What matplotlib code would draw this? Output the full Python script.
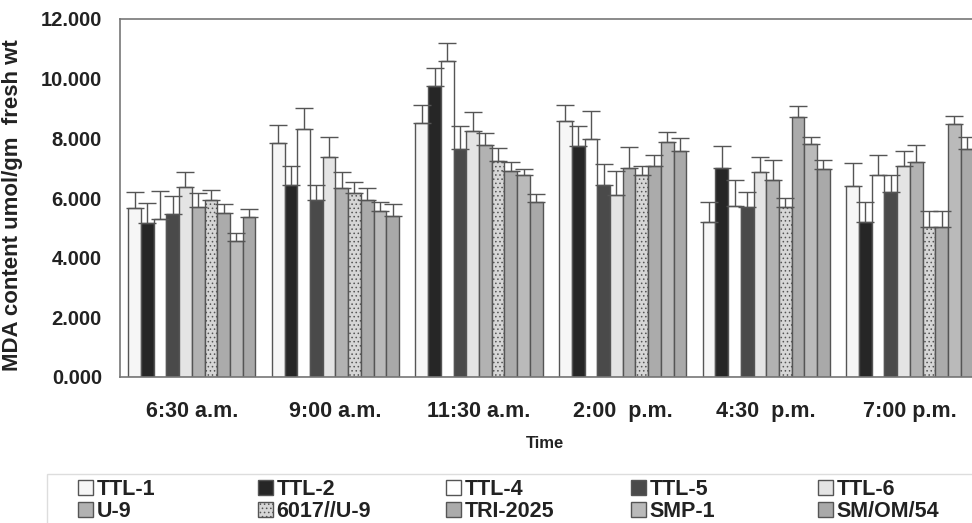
import numpy as np
import matplotlib
matplotlib.use('Agg')
import matplotlib.pyplot as plt
from matplotlib.ticker import FormatStrFormatter
from matplotlib.patches import Rectangle

plt.rcParams['font.family'] = ['Liberation Sans', 'DejaVu Sans']
plt.rcParams['font.weight'] = 'bold'
plt.rcParams['hatch.color'] = '#8a8a8a'
plt.rcParams['hatch.linewidth'] = 0.6

times = ['6:30 a.m.', '9:00 a.m.', '11:30 a.m.', '2:00  p.m.', '4:30  p.m.', '7:00 p.m.']
series = ['TTL-1', 'TTL-2', 'TTL-4', 'TTL-5', 'TTL-6',
          'U-9', '6017//U-9', 'TRI-2025', 'SMP-1', 'SM/OM/54']

# mean MDA content per series, one value per time point
ttl1 = [5.68, 7.86, 8.53, 8.57, 5.19, 6.39]
ttl2 = [5.16, 6.44, 9.74, 7.73, 7.00, 5.19]
ttl4 = [5.30, 8.32, 10.60, 7.99, 5.74, 6.76]
ttl5 = [5.46, 5.94, 7.65, 6.44, 5.71, 6.20]
ttl6 = [6.37, 7.36, 8.26, 6.11, 6.86, 7.08]
u9 = [5.71, 6.33, 7.76, 7.00, 6.59, 7.19]
u6017 = [5.94, 6.16, 7.25, 6.78, 5.69, 5.04]
tri2025 = [5.49, 5.94, 6.91, 7.06, 8.71, 5.04]
smp1 = [4.57, 5.55, 6.76, 7.87, 7.82, 8.49]
smom54 = [5.35, 5.38, 5.85, 7.58, 6.97, 7.65]

# standard error (upper bar only)
ttl1_err = [0.52, 0.60, 0.60, 0.56, 0.66, 0.78]
ttl2_err = [0.67, 0.62, 0.62, 0.70, 0.73, 0.66]
ttl4_err = [0.92, 0.70, 0.60, 0.94, 0.85, 0.67]
ttl5_err = [0.61, 0.50, 0.75, 0.70, 0.50, 0.56]
ttl6_err = [0.50, 0.70, 0.62, 0.81, 0.50, 0.48]
u9_err = [0.45, 0.53, 0.42, 0.71, 0.70, 0.57]
u6017_err = [0.33, 0.39, 0.42, 0.30, 0.30, 0.54]
tri2025_err = [0.31, 0.39, 0.29, 0.37, 0.38, 0.51]
smp1_err = [0.25, 0.30, 0.21, 0.33, 0.22, 0.27]
smom54_err = [0.29, 0.42, 0.28, 0.43, 0.29, 0.41]

values = [ttl1, ttl2, ttl4, ttl5, ttl6, u9, u6017, tri2025, smp1, smom54]
errors = [ttl1_err, ttl2_err, ttl4_err, ttl5_err, ttl6_err,
          u9_err, u6017_err, tri2025_err, smp1_err, smom54_err]
colors = ['#f6f6f6', '#262626', '#ffffff', '#4a4a4a', '#e4e4e4',
          '#b2b2b2', '#d6d6d6', '#ababab', '#bababa', '#a9a9a9']
hatches = [None, None, None, None, None, None, '....', None, None, None]

fig = plt.figure(figsize=(9.72, 5.23), dpi=100)
ax = fig.add_axes([120 / 972, 1 - 377 / 523, 1 - 120 / 972 + 0.01, (377 - 19) / 523])

x = np.arange(len(times))
w = 0.0885
handles = []
for k in range(len(series)):
    pos = x + (k - 4.5) * w
    err = np.array(errors[k])
    b = ax.bar(pos, values[k], w, color=colors[k], edgecolor='#555555', linewidth=1.0,
               hatch=hatches[k], label=series[k],
               yerr=[np.zeros_like(err), err], capsize=6.5,
               error_kw=dict(ecolor='#555555', elinewidth=1.0, capthick=1.0))
    handles.append(b)

ax.set_xlim(-0.5, 5.5)
ax.set_ylim(0, 12)
ax.set_yticks(np.arange(0, 12.1, 2))
ax.yaxis.set_major_formatter(FormatStrFormatter('%.3f'))
ax.set_xticks(x)
ax.set_xticklabels(times)
ax.tick_params(axis='y', length=0, pad=13, labelsize=14.5, labelcolor='#222222')
ax.tick_params(axis='x', length=0, pad=17, labelsize=15.5, labelcolor='#222222')
for s in ['left', 'top', 'bottom']:
    ax.spines[s].set_color('#777777')
    ax.spines[s].set_linewidth(1.2)
ax.spines['right'].set_visible(False)

ax.set_ylabel('MDA content umol/gm  fresh wt', fontsize=16, fontweight='bold',
              color='#222222', labelpad=6)
ax.yaxis.set_label_coords(-0.113, 0.48)
fig.text(545 / 972, 1 - 443 / 523, 'Time', ha='center', va='center',
         fontsize=12, fontweight='bold', color='#222222')

# legend frame: only its top and left edges fall inside the picture
frame_top = 1 - 474 / 523
fig.patches.append(Rectangle((47 / 972, -0.05), 1.0, frame_top + 0.05,
                             transform=fig.transFigure, fill=False,
                             edgecolor='#dddddd', linewidth=1.0))

# one small legend per column, evenly spaced like the reference
col_x = [78, 258, 446, 631, 818]
for c in range(5):
    lg = fig.legend([handles[c], handles[c + 5]], [series[c], series[c + 5]],
                    loc='upper left', bbox_to_anchor=(col_x[c] / 972, 1 - 479 / 523),
                    frameon=False, fontsize=15.5, handlelength=0.7, handleheight=0.7,
                    handletextpad=0.15, labelspacing=0.05, borderpad=0, borderaxespad=0)
    for t in lg.get_texts():
        t.set_color('#222222')

fig.savefig('out.png', dpi=100)
